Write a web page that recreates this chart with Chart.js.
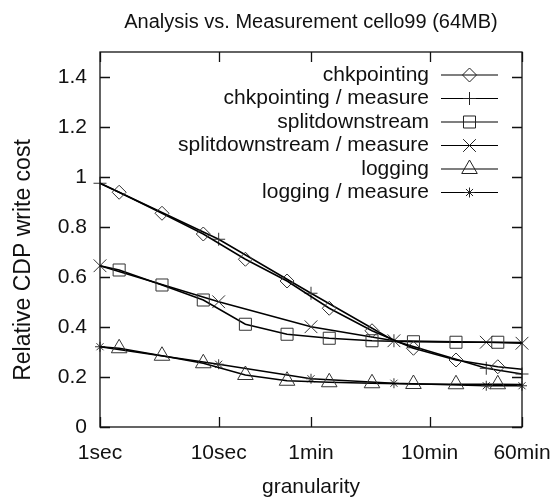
<!DOCTYPE html>
<html lang="en">
<head>
<meta charset="UTF-8">
<title>Analysis vs. Measurement cello99 (64MB)</title>
<script src="https://cdn.jsdelivr.net/npm/chart.js"></script>
<style>
  html, body { margin: 0; padding: 0; background: #fff; }
</style>
</head>
<body>
<canvas id="grafico" width="551" height="498"></canvas>
<script>
// granularity in seconds (log axis)
const analysisSec = [1, 1.45, 3.33, 7.42, 16.8, 37.7, 85.5, 196, 438, 1000, 2250, 3600];
const chkpointing = [0.975, 0.939, 0.855, 0.772, 0.671, 0.584, 0.475, 0.385, 0.315, 0.268, 0.241, 0.231];
const splitdownstream = [0.645, 0.628, 0.568, 0.508, 0.411, 0.371, 0.355, 0.345, 0.341, 0.339, 0.339, 0.338];
const logging = [0.321, 0.315, 0.285, 0.255, 0.208, 0.185, 0.179, 0.175, 0.172, 0.171, 0.171, 0.170];

const measureSec = [1, 10, 60, 300, 1800, 3600];
const chkMeasure = [0.975, 0.751, 0.535, 0.345, 0.235, 0.212];
const splitMeasure = [0.645, 0.501, 0.401, 0.345, 0.339, 0.335];
const logMeasure = [0.321, 0.251, 0.193, 0.175, 0.165, 0.165];

const xTicks = [1, 10, 60, 600, 3600];
const xTickLabels = ['1sec', '10sec', '1min', '10min', '60min'];
const yTicks = [0, 0.2, 0.4, 0.6, 0.8, 1, 1.2, 1.4];

const fonte = '"Liberation Sans", Arial, Helvetica, sans-serif';

function pares(xs, ys) {
    return xs.map((x, i) => ({ x: x, y: ys[i] }));
}

// analysis curves: no marker on the first and last point
function raios(n, r) {
    let lista = [];
    for (let i = 0; i < n; i++) lista.push(i == 0 || i == n - 1 ? 0 : r);
    return lista;
}

function serie(label, dados, estilo, raio) {
    return {
        label: label,
        data: dados,
        pointStyle: estilo,
        pointRadius: raio,
        legendRadius: Array.isArray(raio) ? raio[1] : raio,
        borderColor: '#000',
        borderWidth: 1.5,
        pointBorderColor: '#333',
        pointBackgroundColor: 'rgba(0,0,0,0)',
        pointBorderWidth: 1,
        tension: 0,
        fill: false,
        clip: false
    };
}

const datasets = [
    serie('chkpointing', pares(analysisSec, chkpointing), 'rectRot', raios(analysisSec.length, 7)),
    serie('chkpointing / measure', pares(measureSec, chkMeasure), 'cross', 6.5),
    serie('splitdownstream', pares(analysisSec, splitdownstream), 'rect', raios(analysisSec.length, 8.5)),
    serie('splitdownstream / measure', pares(measureSec, splitMeasure), 'crossRot', 9),
    serie('logging', pares(analysisSec, logging), 'triangle', raios(analysisSec.length, 9)),
    serie('logging / measure', pares(measureSec, logMeasure), 'star', 5)
];

function marcador(ctx, estilo, r, x, y) {
    ctx.fillStyle = 'rgba(0,0,0,0)';
    ctx.strokeStyle = '#222';
    ctx.lineWidth = 1;
    Chart.helpers.drawPoint(ctx, { pointStyle: estilo, radius: r, borderWidth: 1, rotation: 0 }, x, y);
}

const moldura = {
    id: 'moldura',
    afterDraw(chart) {
        const ctx = chart.ctx;
        const a = chart.chartArea;
        const sx = chart.scales.x;
        const sy = chart.scales.y;
        ctx.save();
        ctx.strokeStyle = '#111';
        ctx.lineWidth = 1.3;
        ctx.strokeRect(a.left, a.top, a.right - a.left, a.bottom - a.top);

        // inward tick marks on all four sides
        ctx.beginPath();
        yTicks.forEach(v => {
            const py = Math.round(sy.getPixelForValue(v)) + 0.5;
            ctx.moveTo(a.left, py); ctx.lineTo(a.left + 10, py);
            ctx.moveTo(a.right, py); ctx.lineTo(a.right - 10, py);
        });
        xTicks.forEach(v => {
            const px = Math.round(sx.getPixelForValue(v)) + 0.5;
            ctx.moveTo(px, a.bottom); ctx.lineTo(px, a.bottom - 10);
            ctx.moveTo(px, a.top); ctx.lineTo(px, a.top + 10);
        });
        ctx.stroke();

        // titles
        ctx.fillStyle = '#111';
        ctx.font = '20px ' + fonte;
        ctx.textAlign = 'center';
        ctx.textBaseline = 'middle';
        ctx.fillText('Analysis vs. Measurement cello99 (64MB)', (a.left + a.right) / 2, 22);
        ctx.font = '21px ' + fonte;
        ctx.fillText('granularity', (a.left + a.right) / 2, 487);
        ctx.save();
        ctx.translate(24, 260);
        ctx.rotate(-Math.PI / 2);
        ctx.font = '23px ' + fonte;
        ctx.fillText('Relative CDP write cost', 0, 0);
        ctx.restore();

        // legend, text right aligned, sample line with marker
        ctx.font = '21px ' + fonte;
        ctx.textAlign = 'right';
        chart.data.datasets.forEach((ds, i) => {
            const ly = 75 + i * 23.5;
            ctx.fillStyle = '#111';
            ctx.fillText(ds.label, 429, ly);
            ctx.strokeStyle = '#000';
            ctx.lineWidth = 1.2;
            ctx.beginPath();
            ctx.moveTo(441, ly); ctx.lineTo(498, ly);
            ctx.stroke();
            marcador(ctx, ds.pointStyle, ds.legendRadius, 469.5, ly);
        });
        ctx.restore();
    }
};

const ctx = document.getElementById('grafico').getContext('2d');
const grafico = new Chart(ctx, {
    type: 'line',
    data: { datasets: datasets },
    options: {
        responsive: false,
        animation: false,
        layout: { padding: { left: 0, top: 52, right: 29, bottom: 0 } },
        plugins: {
            legend: { display: false },
            title: { display: false },
            tooltip: { enabled: false }
        },
        scales: {
            x: {
                type: 'logarithmic',
                min: 1,
                max: 3600,
                grid: { display: false, drawTicks: false },
                border: { display: false },
                afterBuildTicks: s => { s.ticks = xTicks.map(v => ({ value: v })); },
                afterFit: s => { s.height = 71; s.paddingLeft = 0; s.paddingRight = 0; },
                ticks: {
                    autoSkip: false,
                    maxRotation: 0,
                    padding: 14,
                    color: '#111',
                    font: { family: fonte, size: 21 },
                    callback: (v, i) => xTickLabels[i]
                }
            },
            y: {
                min: 0,
                max: 1.5,
                grid: { display: false, drawTicks: false },
                border: { display: false },
                afterBuildTicks: s => { s.ticks = yTicks.map(v => ({ value: v })); },
                afterFit: s => { s.width = 100; },
                ticks: {
                    padding: 13,
                    color: '#111',
                    font: { family: fonte, size: 21 },
                    callback: v => String(Math.round(v * 10) / 10)
                }
            }
        }
    },
    plugins: [moldura]
});
</script>
</body>
</html>
